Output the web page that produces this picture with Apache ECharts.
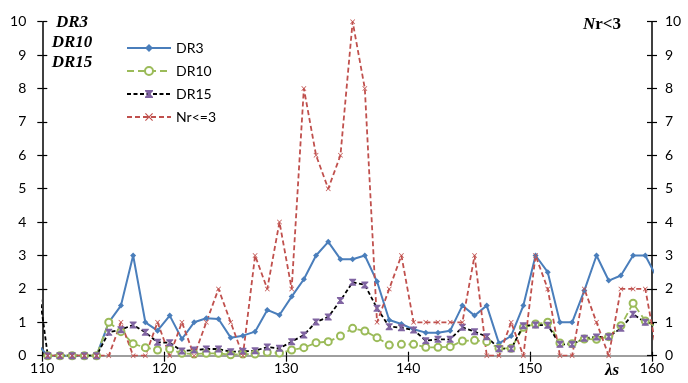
<!DOCTYPE html>
<html>
<head>
<meta charset="utf-8">
<script src="https://cdn.jsdelivr.net/npm/echarts@6/dist/echarts.min.js"></script>
<style>
html,body{margin:0;padding:0;background:#fff;}
#chart{width:688px;height:383px;}
</style>
</head>
<body>
<div id="chart"></div>
<script>
// lambda_s positions of the points (lines run past the axis limits and are clipped)
const xs = [109.45,110.45,111.45,112.45,113.45,114.45,115.45,116.45,117.45,118.45,119.45,
  120.45,121.45,122.45,123.45,124.45,125.45,126.45,127.45,128.45,129.45,
  130.45,131.45,132.45,133.45,134.45,135.45,136.45,137.45,138.45,139.45,
  140.45,141.45,142.45,143.45,144.45,145.45,146.45,147.45,148.45,149.45,
  150.45,151.45,152.45,153.45,154.45,155.45,156.45,157.45,158.45,159.45,160.45];
const dr3 = [0.4,0,0,0,0,0,1.0,1.5,3.0,1.0,0.75,
  1.2,0.5,1.0,1.12,1.1,0.54,0.6,0.72,1.37,1.22,
  1.77,2.29,3.0,3.41,2.89,2.89,3.0,2.22,1.07,0.95,
  0.79,0.69,0.69,0.75,1.5,1.2,1.5,0.37,0.59,1.5,
  3.0,2.5,1.0,1.0,1.95,3.0,2.25,2.4,3.0,3.0,2.3];
const dr10 = [0.25,0,0,0,0,0,1.0,0.72,0.36,0.24,0.17,
  0.2,0.07,0.05,0.07,0.07,0.03,0.05,0.05,0.1,0.08,
  0.17,0.24,0.39,0.42,0.59,0.82,0.74,0.54,0.32,0.34,
  0.34,0.25,0.25,0.27,0.44,0.46,0.42,0.22,0.22,0.85,
  0.95,1.0,0.38,0.36,0.5,0.49,0.57,0.9,1.57,1.04,0.85];
const dr15 = [2.7,0,0,0,0,0,0.7,0.78,0.92,0.7,0.4,
  0.39,0.14,0.17,0.2,0.2,0.12,0.13,0.15,0.26,0.22,
  0.42,0.62,1.01,1.16,1.65,2.2,2.12,1.42,0.87,0.84,
  0.77,0.45,0.49,0.49,0.85,0.72,0.57,0.21,0.21,0.9,
  0.92,0.91,0.34,0.34,0.52,0.56,0.57,0.82,1.24,1.0,0.95];
const nr3 = [0,0,0,0,0,0,0,1,0,0,1,
  0,1,0,1,2,1,0,3,2,4,
  2,8,6,5,6,10,8,1,2,3,
  1,1,1,1,1,3,0,0,1,0,
  3,2,0,0,2,1,0,2,2,2,0];
const seriesNames = ['DR3','DR10','DR15','Nr<=3'];

function pairs(v){ return xs.map((x,i)=>[x,v[i]]); }

const FONT = 'Lato';
const chart = echarts.init(document.getElementById('chart'), null, {renderer:'canvas'});
const grid = {left:42.3, right:36, top:21.7, bottom:27.3, containLabel:false};
const yBase = {type:'value', min:0, max:10, interval:1, splitLine:{show:false}};
const option = {
  animation:false,
  backgroundColor:'#fff',
  grid: grid,
  xAxis:[
    {type:'value', min:110, max:160, interval:10, position:'bottom',
     axisLine:{show:true, onZero:false, lineStyle:{color:'#7f7f7f', width:1.5}},
     axisTick:{show:true, inside:false, length:6, lineStyle:{color:'#000', width:1.2}},
     axisLabel:{margin:6, fontFamily:FONT, fontSize:14, color:'#000'},
     splitLine:{show:false}},
    {type:'value', min:110, max:160, interval:10, position:'bottom',
     axisLine:{show:false, onZero:false},
     axisTick:{show:true, inside:true, length:4, lineStyle:{color:'#000', width:1.2}},
     axisLabel:{show:false}, splitLine:{show:false}}
  ],
  yAxis:[
    Object.assign({}, yBase, {position:'left',
      axisLine:{show:true, lineStyle:{color:'#000', width:1.5}},
      axisTick:{show:true, inside:false, length:5, lineStyle:{color:'#000', width:1.2}},
      axisLabel:{margin:16, fontFamily:FONT, fontSize:14, color:'#000'}}),
    Object.assign({}, yBase, {position:'right',
      axisLine:{show:true, lineStyle:{color:'#000', width:1.5}},
      axisTick:{show:true, inside:false, length:5, lineStyle:{color:'#000', width:1.2}},
      axisLabel:{margin:13, fontFamily:FONT, fontSize:14, color:'#000'}}),
    Object.assign({}, yBase, {position:'left',
      axisLine:{show:false}, axisLabel:{show:false},
      axisTick:{show:true, inside:true, length:5, lineStyle:{color:'#000', width:1.2}}}),
    Object.assign({}, yBase, {position:'right',
      axisLine:{show:false}, axisLabel:{show:false},
      axisTick:{show:true, inside:true, length:5, lineStyle:{color:'#000', width:1.2}}})
  ],
  legend:{
    orient:'vertical', left:121, top:36, itemWidth:44, itemHeight:10, itemGap:9,
    textStyle:{fontFamily:FONT, fontSize:14, color:'#000'},
    data:seriesNames
  },
  series:[
    {name:seriesNames[0], type:'line', data:pairs(dr3), xAxisIndex:0, yAxisIndex:0,
     symbol:'diamond', symbolSize:6, clip:true,
     lineStyle:{color:'#4a7ebb', width:2},
     itemStyle:{color:'#4a7ebb'}},
    {name:seriesNames[1], type:'line', data:pairs(dr10), xAxisIndex:0, yAxisIndex:0,
     symbol:'emptyCircle', symbolSize:7, clip:true,
     lineStyle:{color:'#9bbb59', width:1.8, type:[7,4]},
     itemStyle:{color:'#9bbb59', borderWidth:1.3}},
    {name:seriesNames[2], type:'line', data:pairs(dr15), xAxisIndex:0, yAxisIndex:0,
     symbol:'path://M0,0 L10,0 L10,1.5 L6.3,5 L10,8.5 L10,10 L0,10 L0,8.5 L3.7,5 L0,1.5 Z', symbolSize:7, clip:true,
     lineStyle:{color:'#000', width:1.8, type:[4,2.5]},
     itemStyle:{color:'#8064a2'}},
    {name:seriesNames[3], type:'line', data:pairs(nr3), xAxisIndex:0, yAxisIndex:1,
     symbol:'path://M0,1 L1,0 L5,4 L9,0 L10,1 L6,5 L10,9 L9,10 L5,6 L1,10 L0,9 L4,5 Z', symbolSize:5, clip:true,
     lineStyle:{color:'#c0504d', width:1.8, type:[5,3]},
     itemStyle:{color:'#c0504d'}}
  ],
  graphic:[
    {type:'text', x:72, y:23,
     style:{text:'DR3', fontFamily:'Liberation Serif', fontWeight:'bold', fontStyle:'italic', fontSize:17, fill:'#000', textAlign:'center', textVerticalAlign:'middle'}},
    {type:'text', x:72, y:43,
     style:{text:'DR10', fontFamily:'Liberation Serif', fontWeight:'bold', fontStyle:'italic', fontSize:17, fill:'#000', textAlign:'center', textVerticalAlign:'middle'}},
    {type:'text', x:72, y:62.5,
     style:{text:'DR15', fontFamily:'Liberation Serif', fontWeight:'bold', fontStyle:'italic', fontSize:17, fill:'#000', textAlign:'center', textVerticalAlign:'middle'}},
    {type:'text', x:583, y:25,
     style:{rich:{a:{fontFamily:'Liberation Serif', fontWeight:'bold', fontStyle:'italic', fontSize:17, fill:'#000'},
                  b:{fontFamily:'Liberation Serif', fontWeight:'bold', fontSize:17, fill:'#000'}},
            text:'{a|N}{b|r<3}', textAlign:'left', textVerticalAlign:'middle'}},
    {type:'text', x:612, y:371,
     style:{text:'λs', fontFamily:'Liberation Serif', fontWeight:'bold', fontStyle:'italic', fontSize:17, fill:'#000', textAlign:'center', textVerticalAlign:'middle'}}
  ]
};
chart.setOption(option);
</script>
</body>
</html>
